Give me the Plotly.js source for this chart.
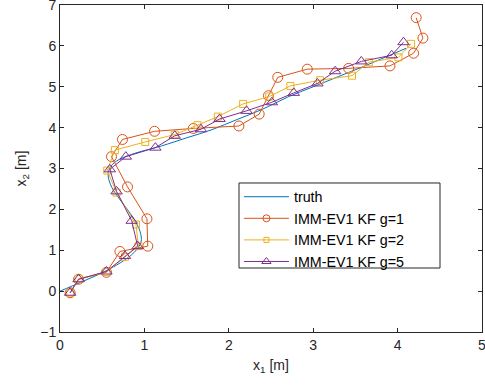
<!DOCTYPE html>
<html>
<head>
<meta charset="utf-8">
<script src="https://cdn.plot.ly/plotly-3.0.1.min.js"></script>
<style>body{margin:0;padding:0;background:#fff}#chart{width:485px;height:385px}</style>
</head>
<body>
<div id="chart"></div>
<script>
const truthX = [0, 0.25, 0.5, 0.72, 0.88, 0.96, 0.95, 0.88, 0.78, 0.67, 0.6, 0.57, 0.6, 0.7, 0.9, 1.2, 1.5, 1.8, 2.1, 2.4, 2.7, 3.0, 3.3, 3.6, 3.85, 4.1];
const truthY = [0, 0.22, 0.45, 0.7, 0.95, 1.2, 1.45, 1.75, 2.05, 2.35, 2.6, 2.85, 3.05, 3.22, 3.38, 3.55, 3.75, 3.95, 4.2, 4.45, 4.75, 5.0, 5.25, 5.5, 5.72, 5.94];

const g1X = [0.12, 0.22, 0.55, 0.71, 1.04, 1.03, 0.80, 0.61, 0.74, 1.12, 1.58, 2.12, 2.36, 2.47, 2.58, 2.93, 3.42, 3.91, 4.19, 4.30, 4.22];
const g1Y = [-0.04, 0.29, 0.46, 0.97, 1.10, 1.77, 2.55, 3.29, 3.71, 3.91, 3.98, 4.04, 4.33, 4.78, 5.23, 5.43, 5.45, 5.51, 5.82, 6.19, 6.69];

const g2X = [0.12, 0.22, 0.55, 0.77, 0.93, 0.90, 0.67, 0.56, 0.65, 1.01, 1.36, 1.63, 1.87, 2.17, 2.48, 2.73, 3.08, 3.46, 3.66, 4.01, 4.16];
const g2Y = [-0.04, 0.30, 0.47, 0.84, 1.10, 1.63, 2.41, 2.95, 3.45, 3.65, 3.83, 4.06, 4.27, 4.58, 4.76, 5.02, 5.16, 5.27, 5.60, 5.72, 6.05];

const g5X = [0.12, 0.22, 0.55, 0.77, 0.92, 0.85, 0.67, 0.59, 0.78, 1.13, 1.36, 1.67, 1.89, 2.21, 2.51, 2.77, 3.05, 3.26, 3.57, 3.93, 4.07];
const g5Y = [-0.04, 0.29, 0.48, 0.86, 1.10, 1.72, 2.44, 2.98, 3.29, 3.51, 3.80, 3.96, 4.21, 4.41, 4.62, 4.85, 5.08, 5.38, 5.62, 5.77, 6.09];

const xTicks = [0, 1, 2, 3, 4, 5];
const yTicks = [-1, 0, 1, 2, 3, 4, 5, 6, 7];

const names = ['truth', 'IMM-EV1 KF g=1', 'IMM-EV1 KF g=2', 'IMM-EV1 KF g=5'];
const colors = ['#0072BD', '#D95319', '#EDB120', '#7E2F8E'];
const symbols = ['circle-open', 'square-open', 'triangle-up-open'];
const plotSizes = [10, 7, 10];
const legendSizes = [7, 5, 8];

const traces = [
  {x: truthX, y: truthY, name: names[0], mode: 'lines', line: {color: colors[0], width: 1, shape: 'spline'}, showlegend: true}
];
const series = [[g1X, g1Y], [g2X, g2Y], [g5X, g5Y]];
series.forEach(function (s, i) {
  traces.push({x: s[0], y: s[1], name: names[i + 1], mode: 'lines+markers', showlegend: false,
    line: {color: colors[i + 1], width: 1},
    marker: {symbol: symbols[i], size: plotSizes[i], color: colors[i + 1], line: {width: 1, color: colors[i + 1]}}});
});
// legend entries with small markers (as in the reference legend)
series.forEach(function (s, i) {
  traces.push({x: [null], y: [null], name: names[i + 1], mode: 'lines+markers', showlegend: true,
    line: {color: colors[i + 1], width: 1},
    marker: {symbol: symbols[i], size: legendSizes[i], color: colors[i + 1], line: {width: 1, color: colors[i + 1]}}});
});

const axisCommon = {
  showgrid: false, zeroline: false, showline: true, mirror: 'ticks',
  linecolor: '#262626', linewidth: 1, ticks: 'inside', ticklen: 4, tickcolor: '#262626',
  ticklabeloverflow: 'allow',
  tickfont: {family: 'Liberation Sans, Arial, sans-serif', size: 14, color: '#262626'}
};

const layout = {
  width: 485, height: 385,
  margin: {l: 60, r: 3, t: 5, b: 53},
  paper_bgcolor: '#fff', plot_bgcolor: '#fff',
  font: {family: 'Liberation Sans, Arial, sans-serif', size: 14, color: '#262626'},
  showlegend: true,
  legend: {x: 0.424, y: 0.462, xanchor: 'left', yanchor: 'top', bgcolor: 'rgba(0,0,0,0)',
           borderwidth: 0, font: {size: 14.3, color: '#000'},
           tracegroupgap: 0, itemwidth: 45, itemsizing: 'trace'},
  shapes: [{type: 'rect', xref: 'paper', yref: 'paper', x0: 0.4242, x1: 0.9005, y0: 0.1957, y1: 0.4557,
            line: {color: '#262626', width: 1}, fillcolor: '#fff', layer: 'below'}],
  xaxis: Object.assign({}, axisCommon, {range: [0, 5], tickmode: 'array', tickvals: xTicks,
           title: {text: 'x<sub>1</sub> [m]', standoff: 8, font: {size: 14, color: '#262626'}}}),
  yaxis: Object.assign({}, axisCommon, {range: [-1, 7], tickmode: 'array', tickvals: yTicks,
           title: {text: 'x<sub>2</sub> [m]', standoff: 10, font: {size: 14, color: '#262626'}}})
};

Plotly.newPlot('chart', traces, layout, {displayModeBar: false, staticPlot: true});
</script>
</body>
</html>
